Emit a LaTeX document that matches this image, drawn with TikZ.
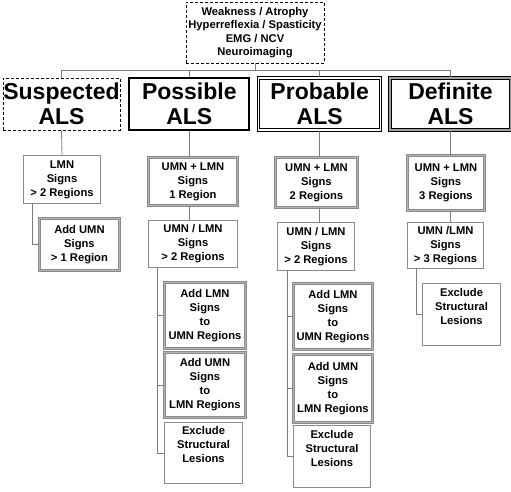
\documentclass[tikz,border=0pt]{standalone}
\usepackage{fontspec}
\setmainfont{Liberation Sans}
\usetikzlibrary{positioning}
\definecolor{signedge}{HTML}{8A8A8A}
\definecolor{signinner}{HTML}{B4B4B4}
\definecolor{linkgray}{HTML}{7C7C7C}
\definecolor{definitegap}{HTML}{A0A0A0}

\newcommand{\toptext}[1]{\parbox[c][53pt][t]{74pt}{\centering #1}}

\begin{document}
\begin{tikzpicture}[
        x=1pt, y=-1pt,
        findingbox/.style={
            draw,
            dash pattern=on 3pt off 2pt,
            line width=0.9pt,
            inner sep=0pt,
            minimum width=138pt,
            minimum height=61pt,
            align=center,
            font=\bfseries\fontsize{11.2}{13.5}\selectfont
        },
        alsbox/.style={
            inner sep=0pt,
            minimum height=52pt,
            align=center,
            font=\bfseries\fontsize{23}{25}\selectfont
        },
        suspectedbox/.style={alsbox, draw, dash pattern=on 3pt off 2pt, line width=0.9pt},
        possiblebox/.style={alsbox, draw, line width=1.7pt},
        probablebox/.style={alsbox, draw, double, line width=1.1pt, double distance=1.1pt},
        definitebox/.style={alsbox, draw, double=definitegap, line width=1.5pt, double distance=1.3pt},
        signbox/.style={
            draw=signedge,
            line width=1pt,
            inner sep=0pt,
            anchor=north west,
            align=center,
            font=\bfseries\fontsize{11.2}{14}\selectfont
        },
        keybox/.style={signbox, double=signinner, line width=0.9pt, double distance=1.1pt},
        link/.style={draw=linkgray, line width=0.8pt}
    ]
        \useasboundingbox (0,0) rectangle (511,491);

        % findings and the four grades
        \node[findingbox] (findings) at (255,32.5)
            {Weakness / Atrophy\\Hyperreflexia / Spasticity\\EMG / NCV\\Neuroimaging};

        \node[suspectedbox, minimum width=117pt] (suspected) at (61.5,104) {Suspected\\ALS};
        \node[possiblebox, minimum width=120pt, right=8pt of suspected] (possible) {Possible\\ALS};
        \node[probablebox, minimum width=122pt, right=8pt of possible] (probable) {Probable\\ALS};
        \node[definitebox, minimum width=121pt, right=8pt of probable] (definite) {Definite\\ALS};

        \foreach \grade in {suspected, possible, probable, definite}
            \draw[link] (findings.south) -- ++(0,7) -| (\grade.north);

        % suspected
        \node[signbox, minimum width=77pt, minimum height=48pt] (lmnsuspected) at (23,155)
            {LMN\\Signs\\> 2 Regions};
        \node[keybox, minimum width=80pt, minimum height=52pt] (umnsuspected) at (39,218)
            {Add UMN\\Signs\\> 1 Region};

        % possible
        \node[keybox, minimum width=89pt, minimum height=48pt] (bothpossible) at (148,157)
            {UMN + LMN\\Signs\\1 Region};
        \node[signbox, minimum width=89pt, minimum height=47pt] (eitherpossible) at (148,220)
            {UMN / LMN\\Signs\\> 2 Regions};
        \node[keybox, minimum width=81pt, minimum height=66pt] (addlmnpossible) at (164,282)
            {Add LMN\\Signs\\to\\UMN Regions};
        \node[keybox, minimum width=81pt, minimum height=65pt] (addumnpossible) at (164,352)
            {Add UMN\\Signs\\to\\LMN Regions};
        \node[signbox, minimum width=78pt, minimum height=61pt] (excludepossible) at (164,422)
            {\toptext{Exclude\\Structural\\Lesions}};

        % probable
        \node[keybox, minimum width=82pt, minimum height=50pt] (bothprobable) at (275,157)
            {UMN + LMN\\Signs\\2 Regions};
        \node[signbox, minimum width=77pt, minimum height=48pt] (eitherprobable) at (277,222)
            {UMN / LMN\\Signs\\> 2 Regions};
        \node[keybox, minimum width=79pt, minimum height=66pt] (addlmnprobable) at (293,283)
            {Add LMN\\Signs\\to\\UMN Regions};
        \node[keybox, minimum width=79pt, minimum height=68pt] (addumnprobable) at (293,354)
            {Add UMN\\Signs\\to\\LMN Regions};
        \node[signbox, minimum width=77pt, minimum height=62pt] (excludeprobable) at (293,425)
            {\toptext{Exclude\\Structural\\Lesions}};

        % definite
        \node[keybox, minimum width=77pt, minimum height=55pt] (bothdefinite) at (407,155)
            {UMN + LMN\\Signs\\3 Regions};
        \node[signbox, minimum width=76pt, minimum height=46pt] (eitherdefinite) at (407,222)
            {UMN /LMN\\Signs\\> 3 Regions};
        \node[signbox, minimum width=78pt, minimum height=62pt] (excludedefinite) at (422,283)
            {\toptext{Exclude\\Structural\\Lesions}};

        % links down each column
        \draw[link] (suspected.south) -- (lmnsuspected.north);
        \draw[link] ([xshift=9pt]lmnsuspected.south west) |- (umnsuspected.west);

        \draw[link] (possible.south) -- (possible.south |- bothpossible.north);
        \draw[link] (possible.south |- bothpossible.south) -- (possible.south |- eitherpossible.north);
        \foreach \step in {addlmnpossible, addumnpossible, excludepossible}
            \draw[link] ([xshift=9pt]eitherpossible.south west) |- (\step.west);

        \draw[link] (probable.south) -- (probable.south |- bothprobable.north);
        \draw[link] (probable.south |- bothprobable.south) -- (probable.south |- eitherprobable.north);
        \foreach \step in {addlmnprobable, addumnprobable, excludeprobable}
            \draw[link] ([xshift=10pt]eitherprobable.south west) |- (\step.west);

        \draw[link] (definite.south) -- (definite.south |- bothdefinite.north);
        \draw[link] (definite.south |- bothdefinite.south) -- (definite.south |- eitherdefinite.north);
        \draw[link] ([xshift=9pt]eitherdefinite.south west) |- (excludedefinite.west);
    \end{tikzpicture}
\end{document}
